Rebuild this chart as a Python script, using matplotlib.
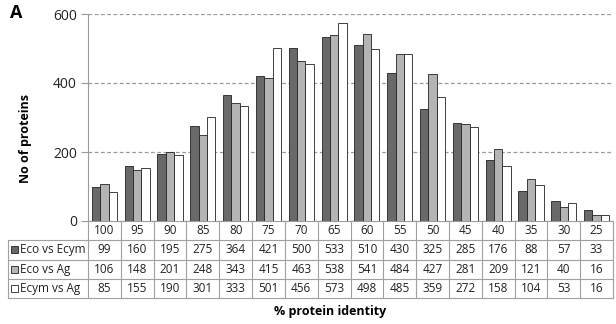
import matplotlib.pyplot as plt
from matplotlib.patches import Rectangle
from matplotlib.transforms import Affine2D
import numpy as np

plt.rcParams['font.family'] = ['Open Sans', 'DejaVu Sans']

identity = ['100', '95', '90', '85', '80', '75', '70', '65', '60', '55',
            '50', '45', '40', '35', '30', '25']
eco_ecym = [99, 160, 195, 275, 364, 421, 500, 533, 510, 430, 325, 285, 176, 88, 57, 33]
eco_ag = [106, 148, 201, 248, 343, 415, 463, 538, 541, 484, 427, 281, 209, 121, 40, 16]
ecym_ag = [85, 155, 190, 301, 333, 501, 456, 573, 498, 485, 359, 272, 158, 104, 53, 16]

series = ['Eco vs Ecym', 'Eco vs Ag', 'Ecym vs Ag']
colors = ['#696969', '#b4b4b4', '#ffffff']
values = [eco_ecym, eco_ag, ecym_ag]

W, H = 616, 324
fig = plt.figure(figsize=(W / 100, H / 100), dpi=100)
ax_l, ax_r, ax_t, ax_b = 88, 613, 14, 221
ax = fig.add_axes([ax_l / W, 1 - ax_b / H, (ax_r - ax_l) / W, (ax_b - ax_t) / H])

x = np.arange(len(identity))
w = 0.255
for i, (vals, c) in enumerate(zip(values, colors)):
    ax.bar(x + (i - 1) * w, vals, w, color=c, edgecolor='#222222', linewidth=0.6, zorder=3)

ax.set_xlim(-0.5, len(identity) - 0.5)
ax.set_ylim(0, 600)
ax.set_yticks([0, 200, 400, 600])
ax.set_xticks([])
ax.yaxis.grid(True, linestyle=(0, (3, 2)), color='#9a9a9a', linewidth=0.9)
ax.tick_params(axis='y', length=5, color='#9a9a9a', labelsize=10, labelcolor='#222222', pad=3)
for s in ['top', 'right']:
    ax.spines[s].set_visible(False)
for s in ['left', 'bottom']:
    ax.spines[s].set_color('#9a9a9a')
ax.set_ylabel('No of proteins', fontsize=9, fontweight='bold')
ax.yaxis.set_label_coords((32 - ax_l) / (ax_r - ax_l), 0.40)

# data table drawn in pixel coordinates (origin top-left)
px = Affine2D().scale(1 / W, -1 / H).translate(0, 1) + fig.transFigure
lab_l = 8
col_w = (ax_r - ax_l) / len(identity)
row_h = 19.25
grid = '#a0a0a0'


def hline(y, x0, x1):
    fig.add_artist(plt.Line2D([x0, x1], [y, y], transform=px, color=grid, lw=0.8))


def vline(xp, y0, y1):
    fig.add_artist(plt.Line2D([xp, xp], [y0, y1], transform=px, color=grid, lw=0.8))


n_rows = len(series) + 1
bottom = ax_b + n_rows * row_h
for r in range(1, n_rows + 1):
    hline(ax_b + r * row_h, lab_l, ax_r)
vline(lab_l, ax_b + row_h, bottom)
for k in range(len(identity) + 1):
    vline(ax_l + k * col_w, ax_b, bottom)

for k, lab in enumerate(identity):
    fig.text(ax_l + (k + 0.5) * col_w, ax_b + 0.5 * row_h, lab, transform=px,
             ha='center', va='center', fontsize=8.5, color='#222222')

for i, (name, vals, c) in enumerate(zip(series, values, colors)):
    yc = ax_b + (i + 1.5) * row_h
    fig.patches.append(Rectangle((11, yc - 3.5), 7, 7, transform=px, facecolor=c,
                                 edgecolor='#222222', linewidth=0.6))
    fig.text(20, yc, name, transform=px, ha='left', va='center',
             fontsize=8.5, color='#222222')
    for k, v in enumerate(vals):
        fig.text(ax_l + (k + 0.5) * col_w, yc, str(v), transform=px,
                 ha='center', va='center', fontsize=8.5, color='#222222')

fig.text(330, 311, '% protein identity', transform=px, fontsize=9,
         fontweight='bold', ha='center', va='center')
fig.text(10, 13, 'A', transform=px, fontsize=13, fontweight='bold', ha='left', va='center')

fig.savefig('out.png', dpi=100)
